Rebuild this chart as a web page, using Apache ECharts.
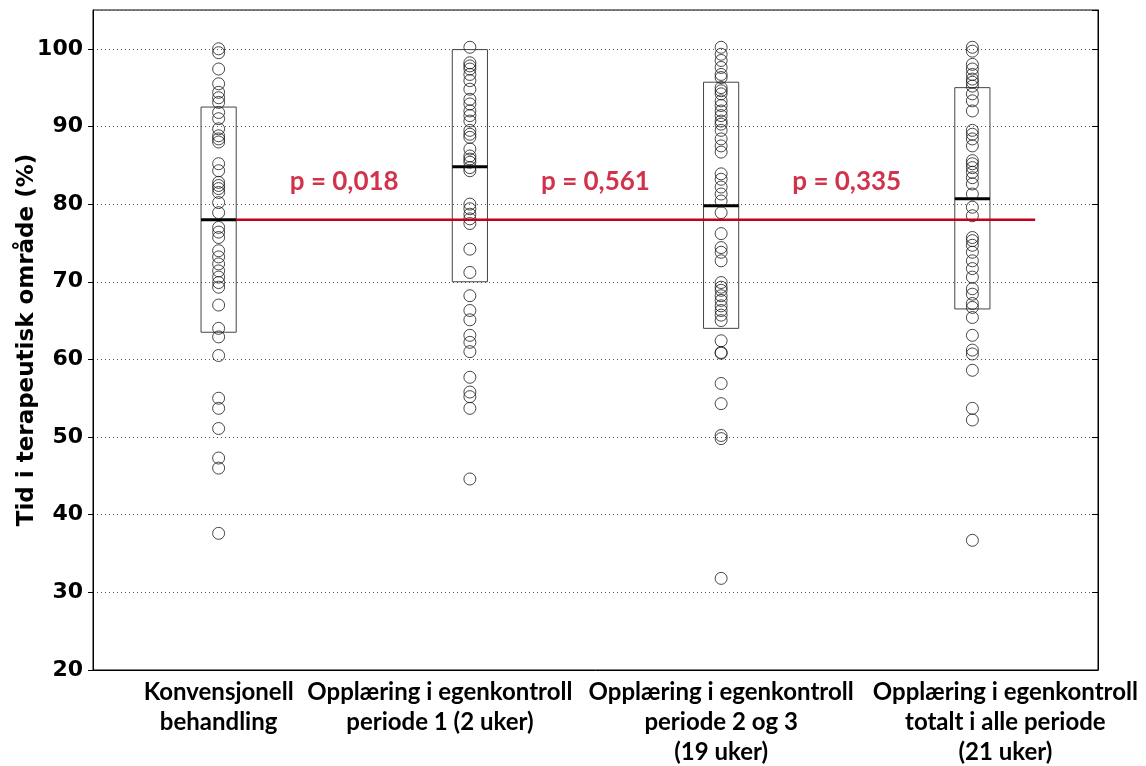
<!DOCTYPE html>
<html>
<head>
<meta charset="utf-8">
<script src="https://cdn.jsdelivr.net/npm/echarts@6/dist/echarts.min.js"></script>
<style>
  html, body { margin: 0; padding: 0; background: #fff; }
  #chart { width: 1146px; height: 766px; }
</style>
</head>
<body>
<div id="chart"></div>
<script>
const categories = [
  'Konvensjonell\nbehandling',
  'Opplæring i egenkontroll\nperiode 1 (2 uker)',
  'Opplæring i egenkontroll\nperiode 2 og 3\n(19 uker)',
  'Opplæring i egenkontroll\ntotalt i alle periode\n(21 uker)'
]

const konvensjonell = [100, 99.5, 97.4, 95.5, 94.4, 93.7, 93.1, 91.8, 91, 89.7, 88.8, 88.4, 88,
  85.2, 84.3, 82.8, 82.4, 82, 81.5, 80.2, 78.9, 77, 76.4, 75.7, 74, 73.2, 72.3, 71.4, 70.6,
  69.9, 69.3, 67, 64, 62.9, 60.5, 55, 53.7, 51.1, 47.3, 46, 37.6]
const periode1 = [100.2, 98.2, 97.8, 97.4, 96.7, 95.9, 94.8, 93.5, 92.9, 92, 91.4, 90.7, 89.5,
  89, 88.6, 87.1, 86.2, 85.8, 85.4, 84.7, 84.3, 80, 79.4, 78.7, 78.1, 77.5, 74.2, 71.2,
  68.2, 66.3, 65.1, 63.1, 62.2, 61, 57.7, 55.8, 55.2, 53.7, 44.6]
const periode23 = [100.2, 99.3, 98.5, 97.6, 96.7, 96.3, 95, 94.6, 94.2, 93.3, 92.7, 92, 91.4,
  90.7, 90.3, 89.5, 88.4, 87.5, 86.7, 83.9, 83.2, 82.2, 81.3, 80.4, 78.9, 76.2, 74.4, 73.8,
  72.7, 69.9, 69.3, 68.9, 68.2, 67.6, 66.9, 66.3, 65.7, 65, 62.4, 60.9, 60.8, 56.9, 54.3,
  50.2, 49.8, 31.8]
const totalt = [100.2, 99.7, 98, 97.4, 96.7, 96.1, 95.7, 95.2, 94.2, 93.3, 92, 89.5, 89, 88.4,
  87.5, 85.6, 85.2, 84.7, 84.1, 83.4, 82.6, 81.3, 79.6, 78.5, 75.7, 75.3, 74.7, 73.8, 72.7,
  71.7, 70.6, 69.1, 68.4, 67.2, 66.7, 65.4, 63.1, 61.2, 60.7, 58.6, 53.7, 52.2, 36.7]

const boxLow = [63.5, 70, 64, 66.5]
const boxMedian = [78, 84.8, 79.8, 80.7]
const boxHigh = [92.5, 99.9, 95.7, 95]

const refValue = 78
const refStart = 0.57
const refEnd = 3.75

const pLabels = ['p = 0,018', 'p = 0,561', 'p = 0,335']
const pX = [1, 2, 3]
const pY = 82.9

const yTicks = [20, 30, 40, 50, 60, 70, 80, 90, 100]

const groups = [konvensjonell, periode1, periode23, totalt]
const points = []
groups.forEach((arr, i) => arr.forEach(v => points.push([i, v])))

const boxes = boxLow.map((lo, i) => [i, lo, boxMedian[i], boxHigh[i]])

const red = '#c4001f'
const labelFont = 'Lato'
const labelShift = ['', 'l', '', 'r']
const labelStyle = { fontFamily: labelFont, fontWeight: 'bold', fontSize: 24, lineHeight: 30, color: '#000' }

const chart = echarts.init(document.getElementById('chart'))

const option = {
  animation: false,
  grid: {
    left: 93,
    right: 48,
    top: 10,
    bottom: 96,
    outerBoundsMode: 'none',
    show: true,
    borderColor: '#000',
    borderWidth: 1
  },
  xAxis: [
    {
      type: 'category',
      data: categories,
      boundaryGap: true,
      axisLine: { lineStyle: { color: '#000', width: 1 } },
      axisTick: { alignWithLabel: true, length: 5, lineStyle: { color: '#000' } },
      axisLabel: Object.assign({
        interval: 0,
        margin: 7,
        formatter: (value, idx) => {
          const s = labelShift[idx]
          if (!s) return value
          return value.split('\n').map(l => '{' + s + '|' + l + '}').join('\n')
        },
        rich: {
          l: Object.assign({ padding: [0, 60, 0, 0] }, labelStyle),
          r: Object.assign({ padding: [0, 0, 0, 66] }, labelStyle)
        }
      }, labelStyle)
    },
    {
      type: 'value',
      min: 0,
      max: 4,
      show: false
    }
  ],
  yAxis: [
    {
      type: 'value',
      min: 20,
      max: 105,
      interval: 10,
      name: 'Tid i terapeutisk område (%)',
      nameLocation: 'middle',
      nameGap: 54,
      nameMoveOverlap: false,
      nameTextStyle: {
        color: '#000',
        fontFamily: 'DejaVu Sans',
        fontWeight: 'bold',
        fontSize: 23
      },
      axisLine: { show: true, lineStyle: { color: '#000' } },
      axisTick: { show: true, length: 5, lineStyle: { color: '#000' } },
      axisLabel: {
        showMaxLabel: false,
        margin: 10,
        color: '#000',
        fontFamily: 'DejaVu Sans',
        fontWeight: 'bold',
        fontSize: 22,
        formatter: v => (yTicks.includes(v) ? String(v) : '')
      },
      splitLine: {
        show: true,
        lineStyle: { color: '#555', type: [1, 3], width: 1 }
      }
    },
    {
      type: 'value',
      min: 20,
      max: 105,
      interval: 10,
      position: 'right',
      axisLine: { show: true, lineStyle: { color: '#000' } },
      axisTick: { show: true, inside: true, length: 6, lineStyle: { color: '#000' } },
      axisLabel: { show: false },
      splitLine: { show: false }
    }
  ],
  series: [
    {
      type: 'custom',
      xAxisIndex: 0,
      yAxisIndex: 0,
      data: boxes,
      z: 3,
      renderItem: (params, api) => {
        const x = api.value(0)
        const lo = api.coord([x, api.value(1)])
        const med = api.coord([x, api.value(2)])
        const hi = api.coord([x, api.value(3)])
        const w = api.size([1, 0])[0] * 0.14
        return {
          type: 'group',
          children: [
            {
              type: 'rect',
              shape: { x: lo[0] - w / 2, y: hi[1], width: w, height: lo[1] - hi[1] },
              style: { fill: 'none', stroke: '#444', lineWidth: 1 }
            },
            {
              type: 'line',
              shape: { x1: med[0] - w / 2, y1: med[1], x2: med[0] + w / 2, y2: med[1] },
              style: { stroke: '#000', lineWidth: 3 }
            }
          ]
        }
      }
    },
    {
      type: 'scatter',
      xAxisIndex: 0,
      yAxisIndex: 0,
      data: points,
      symbol: 'circle',
      symbolSize: 12,
      z: 4,
      itemStyle: {
        color: 'rgba(0,0,0,0)',
        borderColor: '#1a1a1a',
        borderWidth: 1
      }
    },
    {
      type: 'line',
      xAxisIndex: 1,
      yAxisIndex: 0,
      data: [[refStart, refValue], [refEnd, refValue]],
      symbol: 'none',
      z: 5,
      lineStyle: { color: red, width: 2.5 }
    },
    {
      type: 'scatter',
      xAxisIndex: 1,
      yAxisIndex: 0,
      data: pX.map((x, i) => ({ value: [x, pY], name: pLabels[i] })),
      symbolSize: 0,
      z: 6,
      label: {
        show: true,
        position: 'inside',
        formatter: p => p.name,
        color: red,
        fontFamily: labelFont,
        fontWeight: 'bold',
        fontSize: 26
      }
    }
  ]
}

chart.setOption(option)

window.addEventListener('resize', () => {
  chart.resize()
})
</script>
</body>
</html>
